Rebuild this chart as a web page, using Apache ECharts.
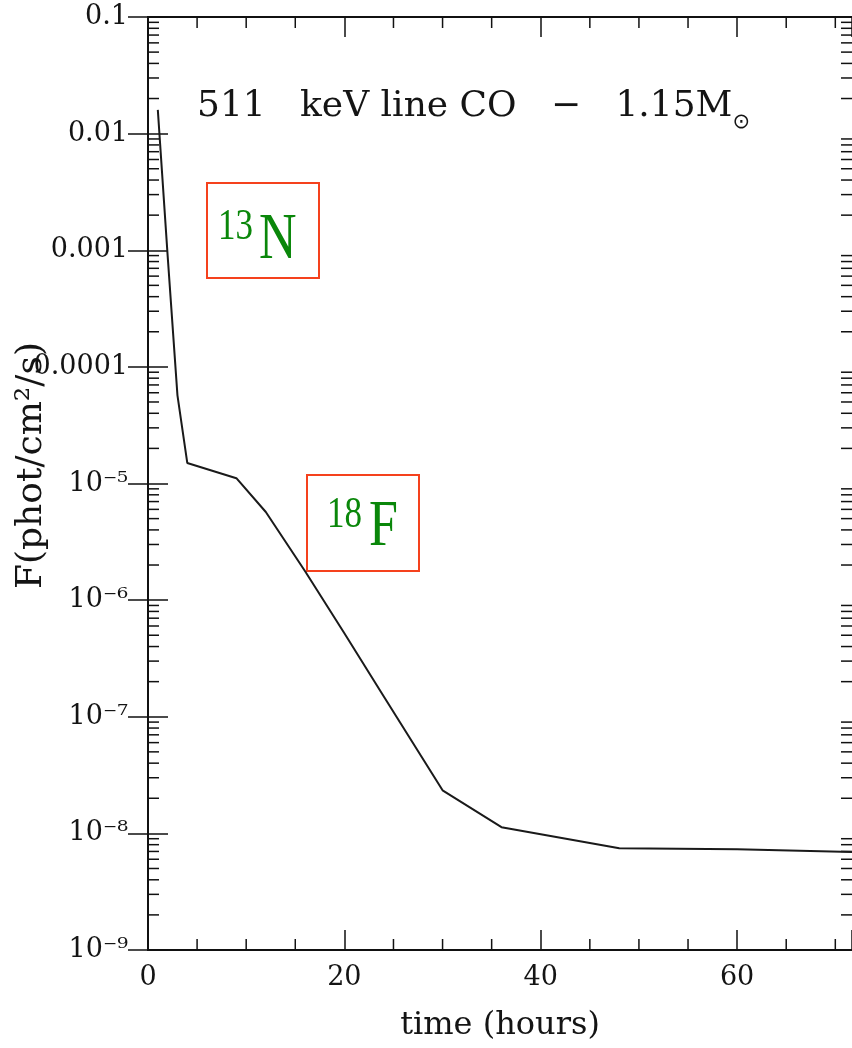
<!DOCTYPE html>
<html>
<head>
<meta charset="utf-8">
<script src="https://cdn.jsdelivr.net/npm/echarts@6/dist/echarts.min.js"></script>
<style>
  html, body { margin: 0; padding: 0; background: #fff; }
  #chart { width: 852px; height: 1048px; }
</style>
</head>
<body>
<div id="chart"></div>
<script>
// ---- data ----
const times = [1, 2, 3, 4, 9, 12, 16, 20, 24, 30, 36, 48, 60, 72];
const flux  = [1.6e-2, 9.0e-4, 5.7e-5, 1.5e-5, 1.11e-5, 5.7e-6, 1.77e-6, 5.2e-7, 1.5e-7, 2.34e-8, 1.13e-8, 7.46e-9, 7.3e-9, 6.9e-9];

const xTickValues = [0, 20, 40, 60];
const xMinorTickValues = [5, 10, 15, 25, 30, 35, 45, 50, 55, 65, 70];
const yTickValues = [1e-9, 1e-8, 1e-7, 1e-6, 1e-5, 1e-4, 1e-3, 1e-2, 1e-1];
const yTickLabels = ['10⁻⁹', '10⁻⁸', '10⁻⁷', '10⁻⁶', '10⁻⁵', '0.0001', '0.001', '0.01', '0.1'];
const minorMultipliers = [2, 3, 4, 5, 6, 7, 8, 9];
const titleText = '511   keV line CO   −   1.15M';
const titleSub = '⊙';
const xName = 'time (hours)';
const yName = 'F(phot/cm²/s)';
const isotopeLabels = [{ sup: '13', el: 'N' }, { sup: '18', el: 'F' }];

// ---- derived ----
const X_MIN = 0, X_MAX = 71.7, Y_MIN = 1e-9, Y_MAX = 0.1;
const seriesData = times.map((t, i) => [t, flux[i]]);
const yMinorTickValues = [];
yTickValues.slice(0, -1).forEach(d => minorMultipliers.forEach(m => yMinorTickValues.push(+(m * d).toPrecision(3))));

const AX = '#111';
const TXT = '#141414';
const FONT = 'DejaVu Serif';
const MINOR_LEN = 11;

function yLabel(v) {
  const i = yTickValues.findIndex(t => Math.abs(Math.log10(t) - Math.log10(v)) < 1e-6);
  return i >= 0 ? yTickLabels[i] : '';
}

const chart = echarts.init(document.getElementById('chart'), null, { renderer: 'canvas' });

const tickLine = (x1, y1, x2, y2) => ({ type: 'line', shape: { x1, y1, x2, y2 }, style: { stroke: AX, lineWidth: 1.5 } });

const option = {
  animation: false,
  backgroundColor: '#fff',
  title: {
    text: '{m|' + titleText + '}{sub|' + titleSub + '}',
    left: 192, top: 84,
    textStyle: {
      fontWeight: 'normal',
      rich: {
        m: { fontFamily: FONT, fontSize: 36, fontWeight: 'normal', color: TXT, verticalAlign: 'bottom', padding: [0, 0, 8, 0] },
        sub: { fontFamily: 'DejaVu Sans', fontSize: 21, fontWeight: 'normal', color: TXT, verticalAlign: 'bottom' }
      }
    }
  },
  grid: { left: 148, right: 0, top: 17, bottom: 98, containLabel: false, outerBoundsMode: 'none' },
  xAxis: [
    {
      type: 'value', min: X_MIN, max: X_MAX, interval: 20, position: 'bottom',
      name: xName, nameLocation: 'middle', nameGap: 60, nameMoveOverlap: false,
      nameTextStyle: { fontFamily: FONT, fontSize: 32, color: TXT },
      axisLine: { show: true, lineStyle: { color: AX, width: 2 } },
      axisTick: { show: true, inside: true, length: 20, lineStyle: { color: AX, width: 1.5 } },
      axisLabel: {
        margin: 14, fontFamily: FONT, fontSize: 27, color: TXT,
        formatter: v => xTickValues.includes(v) ? String(v) : ''
      },
      splitLine: { show: false }, minorTick: { show: false }
    },
    {
      type: 'value', min: X_MIN, max: X_MAX, interval: 20, position: 'top',
      axisLine: { show: true, lineStyle: { color: AX, width: 2 } },
      axisTick: { show: true, inside: true, length: 20, lineStyle: { color: AX, width: 1.5 } },
      axisLabel: { show: false }, splitLine: { show: false }
    }
  ],
  yAxis: [
    {
      type: 'log', logBase: 10, min: Y_MIN, max: Y_MAX, position: 'left',
      name: yName, nameLocation: 'middle', nameGap: 98, nameRotate: 90, nameMoveOverlap: false,
      nameTextStyle: { fontFamily: FONT, fontSize: 36, color: TXT, padding: [0, 0, 0, 36] },
      axisLine: { show: true, lineStyle: { color: AX, width: 2 } },
      axisTick: { show: true, inside: true, length: 20, lineStyle: { color: AX, width: 1.5 } },
      axisLabel: { margin: 20, fontFamily: FONT, fontSize: 27, color: TXT, formatter: yLabel },
      splitLine: { show: false }, minorTick: { show: false }
    },
    {
      type: 'log', logBase: 10, min: Y_MIN, max: Y_MAX, position: 'right',
      axisLine: { show: true, lineStyle: { color: AX, width: 2 } },
      axisTick: { show: true, inside: true, length: 20, lineStyle: { color: AX, width: 1.5 } },
      axisLabel: { show: false }, splitLine: { show: false }
    }
  ],
  series: [
    {
      type: 'line', data: seriesData, xAxisIndex: 0, yAxisIndex: 0,
      symbol: 'none', clip: true,
      lineStyle: { color: '#1a1a1a', width: 2 }, z: 5
    },
    {
      type: 'custom', name: 'yMinorTicks', silent: true, xAxisIndex: 0, yAxisIndex: 0, z: 4,
      data: yMinorTickValues.map(v => [X_MIN, v]),
      renderItem: (params, api) => {
        const v = api.value(1);
        const pL = api.coord([X_MIN, v]);
        const pR = api.coord([X_MAX, v]);
        return { type: 'group', children: [
          tickLine(pL[0], pL[1], pL[0] + MINOR_LEN, pL[1]),
          tickLine(pR[0], pR[1], pR[0] - MINOR_LEN, pR[1])
        ] };
      }
    },
    {
      type: 'custom', name: 'xMinorTicks', silent: true, xAxisIndex: 0, yAxisIndex: 0, z: 4,
      data: xMinorTickValues.map(v => [v, Y_MIN]),
      renderItem: (params, api) => {
        const v = api.value(0);
        const pB = api.coord([v, Y_MIN]);
        const pT = api.coord([v, Y_MAX]);
        return { type: 'group', children: [
          tickLine(pB[0], pB[1], pB[0], pB[1] - MINOR_LEN),
          tickLine(pT[0], pT[1], pT[0], pT[1] + MINOR_LEN)
        ] };
      }
    }
  ],
  graphic: [
    { type: 'rect', shape: { x: 207, y: 183, width: 112, height: 95 }, style: { fill: 'none', stroke: '#f5411d', lineWidth: 2 } },
    { type: 'text', x: 218, y: 227.5, scaleY: 1.25, style: { text: isotopeLabels[0].sup, font: '35px "Liberation Serif"', fill: '#0a870a', align: 'left', verticalAlign: 'middle' } },
    { type: 'text', x: 259, y: 240.5, scaleY: 1.25, style: { text: isotopeLabels[0].el, font: '52px "Liberation Serif"', fill: '#0a870a', align: 'left', verticalAlign: 'middle' } },
    { type: 'rect', shape: { x: 307, y: 475, width: 112, height: 96 }, style: { fill: 'none', stroke: '#f5411d', lineWidth: 2 } },
    { type: 'text', x: 327, y: 515.5, scaleY: 1.25, style: { text: isotopeLabels[1].sup, font: '35px "Liberation Serif"', fill: '#0a870a', align: 'left', verticalAlign: 'middle' } },
    { type: 'text', x: 369, y: 528, scaleY: 1.25, style: { text: isotopeLabels[1].el, font: '52px "Liberation Serif"', fill: '#0a870a', align: 'left', verticalAlign: 'middle' } }
  ]
};

chart.setOption(option);
</script>
</body>
</html>
